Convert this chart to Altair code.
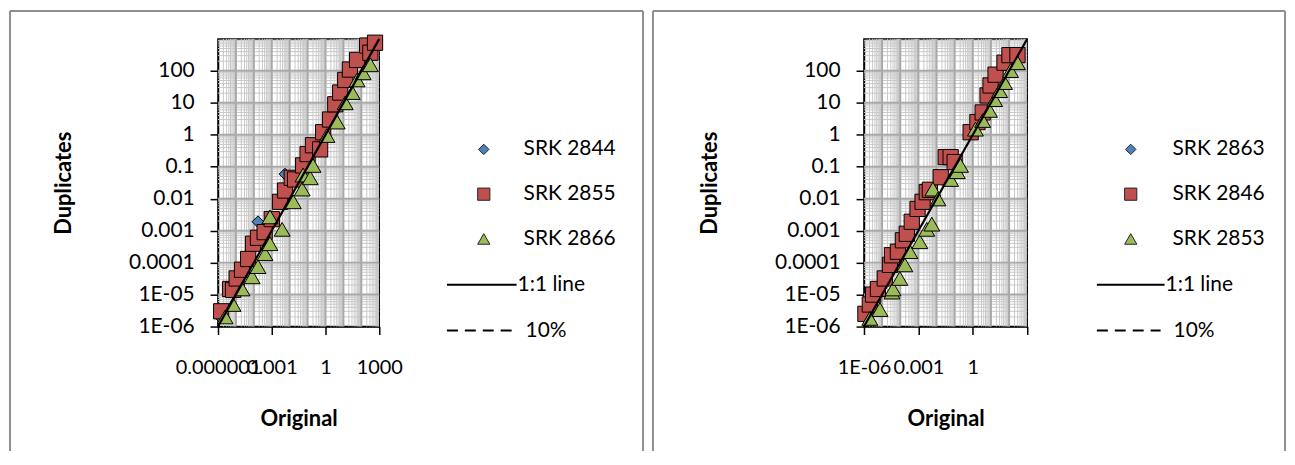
import json
import altair as alt
import pandas as pd

# ---------------- data ----------------
left_names = ["SRK 2844", "SRK 2855", "SRK 2866"]
right_names = ["SRK 2863", "SRK 2846", "SRK 2853"]

left_blue_x = [1.3e-6, 1.7e-4, 5.5e-3]
left_blue_y = [2.0e-6, 1.9e-3, 0.059]

left_red_x = [1.5e-6, 4.7e-6, 7e-6, 1.1e-5, 2.2e-5, 4.8e-5, 9e-5, 1.7e-4, 4e-4, 1e-3, 2.9e-3,
              5.5e-3, 0.013, 0.02, 0.056, 0.1, 0.2, 0.5, 0.74, 1.8, 3.5, 6.6, 12.6, 23, 58,
              210, 320, 580]
left_red_y = [3e-6, 1.5e-5, 1.4e-5, 3.2e-5, 6e-5, 1.3e-4, 3.9e-4, 6e-4, 9e-4, 2.3e-3, 8e-3,
              0.018, 0.045, 0.04, 0.11, 0.25, 0.47, 0.35, 1.2, 3, 9, 21, 52, 110, 220,
              620, 370, 760]

left_green_x = [2.5e-6, 6.9e-6, 2.2e-5, 8e-5, 1.7e-4, 4.2e-4, 8e-4, 8e-4, 3.8e-3, 0.016, 0.05,
                0.056, 0.14, 0.2, 1.2, 4.5, 12.6, 31, 58, 126, 320]
left_green_y = [2e-6, 4.9e-6, 1.5e-5, 3.6e-5, 7.5e-5, 1.9e-4, 3.9e-4, 2.7e-3, 1.1e-3, 8e-3, 0.02,
                0.055, 0.045, 0.11, 0.95, 2.5, 10, 21, 52, 87, 155]

right_blue_x = []
right_blue_y = []

right_red_x = [1.2e-6, 2.1e-6, 3.2e-6, 5.9e-6, 1.4e-5, 2.7e-5, 3.5e-5, 7.4e-5, 1.4e-4, 2.3e-4,
               4.3e-4, 9e-4, 1.7e-3, 2.9e-3, 4.3e-3, 0.017, 0.032, 0.06, 0.1, 0.76, 1.8, 3.5,
               6.5, 9.5, 18, 56, 105, 290]
right_red_y = [2.5e-6, 4.9e-6, 1e-5, 1.5e-5, 3.2e-5, 8.5e-5, 1.7e-4, 2.2e-4, 5e-4, 8e-4,
               1.9e-3, 4.8e-3, 8e-3, 0.016, 0.019, 0.047, 0.2, 0.2, 0.14, 1.2, 2.5, 5,
               17, 35, 76, 180, 310, 310]

right_green_x = [2.1e-6, 7.6e-6, 3.5e-5, 4e-5, 9.5e-5, 1.8e-4, 3.4e-4, 1.2e-3, 2.9e-3, 5.5e-3,
                 6.3e-3, 0.012, 0.06, 0.14, 0.21, 1.4, 3.5, 8.3, 16, 30, 56, 120, 290]
right_green_y = [1.8e-6, 3.4e-6, 1.2e-5, 1.5e-5, 3.2e-5, 8.5e-5, 2.2e-4, 4.5e-4, 1.1e-3, 1.6e-3,
                 0.02, 9.8e-3, 0.04, 0.07, 0.11, 1.5, 2.8, 5.8, 12.6, 24, 43, 102, 180]

# tick labels per decade exponent, from 10^-6 up to 10^3
y_tick_values = [1e-6, 1e-5, 1e-4, 1e-3, 1e-2, 1e-1, 1, 10, 100]
y_labels_by_exp = ["1E-06", "1E-05", "0.0001", "0.001", "0.01", "0.1", "1", "10", "100", "1000"]
left_x_tick_values = [1e-6, 1e-3, 1, 1000]
left_x_labels_by_exp = ["0.000001", "", "", "0.001", "", "", "1", "", "", "1000"]
right_x_tick_values = [1e-6, 1e-3, 1, 1000]
right_x_labels_by_exp = ["1E-06", "", "", "0.001", "", "", "1", "", "", ""]

one_to_one = [1e-6, 1000]
line_labels = ["1:1 line", "10%"]

# ---------------- styling ----------------
FONT = "Lato"
BLUE, RED, GREEN = "#4F81BD", "#C0504D", "#9BBB59"
DOMAIN = [1e-6, 1000]
minor_grid = [m * 10.0 ** e for e in range(-6, 3) for m in range(2, 10)]
major_grid = [10.0 ** e for e in range(-5, 3)]


def label_expr(labels):
    return f"{json.dumps(labels)}[round(log(datum.value) / LN10) + 6]"


def panel(blue, red, green, names, xvals, xlabels, w, lg, frame):
    xs = alt.Scale(type="log", domain=DOMAIN, nice=False)
    ys = alt.Scale(type="log", domain=DOMAIN, nice=False)
    xaxis = alt.Axis(values=xvals, labelExpr=label_expr(xlabels), grid=False, labelFontSize=20,
                     tickSize=8, labelPadding=23, titlePadding=31)
    yaxis = alt.Axis(values=y_tick_values, labelExpr=label_expr(y_labels_by_exp),
                     grid=False, tickSize=8, labelPadding=16, titlePadding=53)

    def X(f):
        return alt.X(f, scale=xs, title="Original", axis=xaxis)

    def Y(f):
        return alt.Y(f, scale=ys, title="Duplicates", axis=yaxis)

    layers = []
    # grid lines
    for vals, col, sw in [(minor_grid, "#c9c9c9", 1), (major_grid, "#a9a9a9", 2)]:
        g = pd.DataFrame({"v": vals})
        layers.append(alt.Chart(g).mark_rule(color=col, strokeWidth=sw).encode(x=X("v:Q")))
        layers.append(alt.Chart(g).mark_rule(color=col, strokeWidth=sw).encode(y=Y("v:Q")))
    # series
    specs = [(blue, "diamond", BLUE, 140), (red, "square", RED, 235), (green, "triangle-up", GREEN, 255)]
    for (xv, yv), shape, col, size in specs:
        if len(xv) == 0:
            continue
        df = pd.DataFrame({"Original": xv, "Duplicates": yv})
        layers.append(alt.Chart(df).mark_point(shape=shape, filled=True, fill=col, stroke="#000",
                                               strokeWidth=1, size=size, opacity=1).encode(
            x=X("Original:Q"), y=Y("Duplicates:Q")))
    # 1:1 line
    ldf = pd.DataFrame({"Original": one_to_one, "Duplicates": one_to_one})
    layers.append(alt.Chart(ldf).mark_line(color="#000", strokeWidth=2.2).encode(
        x=X("Original:Q"), y=Y("Duplicates:Q")))
    # legend (drawn by hand, Excel style)
    one = pd.DataFrame({"a": [0]})
    for i, (shape, col, sz) in enumerate([("diamond", BLUE, 110), ("square", RED, 150), ("triangle-up", GREEN, 150)]):
        yy = 111 + 45 * i
        layers.append(alt.Chart(one).mark_point(shape=shape, filled=True, fill=col, stroke="#222",
                                                strokeWidth=1, size=sz, opacity=1).encode(
            x=alt.value(lg["sym"]), y=alt.value(yy)))
        layers.append(alt.Chart(pd.DataFrame({"t": [names[i]]})).mark_text(
            align="left", baseline="middle", font=FONT, fontSize=21, color="#000").encode(
            x=alt.value(lg["txt"]), y=alt.value(yy), text="t:N"))
    for j, dash in enumerate([[1, 0], [11, 7]]):
        yy = 247 + 46 * j
        layers.append(alt.Chart(one).mark_rule(color="#000", strokeWidth=2, strokeDash=dash).encode(
            x=alt.value(lg["l0"]), x2=alt.value(lg["l1"] - 4 * j), y=alt.value(yy)))
        layers.append(alt.Chart(pd.DataFrame({"t": [line_labels[j]]})).mark_text(
            align="left", baseline="middle", font=FONT, fontSize=21, color="#000").encode(
            x=alt.value(lg["l1"] + 1 + 8 * j), y=alt.value(yy), text="t:N"))
    # panel frame (top, left, right)
    fl, fr, ft, fb = frame
    fc = "#8f8f8f"
    layers.append(alt.Chart(one).mark_rule(color=fc, strokeWidth=2).encode(
        x=alt.value(fl), x2=alt.value(fr), y=alt.value(ft)))
    layers.append(alt.Chart(one).mark_rule(color=fc, strokeWidth=2).encode(
        x=alt.value(fl), y=alt.value(ft), y2=alt.value(fb)))
    layers.append(alt.Chart(one).mark_rule(color=fc, strokeWidth=2).encode(
        x=alt.value(fr), y=alt.value(ft), y2=alt.value(fb)))
    return alt.layer(*layers).properties(width=w, height=289)


left = panel((left_blue_x, left_blue_y), (left_red_x, left_red_y), (left_green_x, left_green_y),
             left_names, left_x_tick_values, left_x_labels_by_exp, 162,
             {"sym": 267, "txt": 307, "l0": 230, "l1": 300}, (-209, 427, -28, 414))
right = panel((right_blue_x, right_blue_y), (right_red_x, right_red_y), (right_green_x, right_green_y),
              right_names, right_x_tick_values, right_x_labels_by_exp, 164,
              {"sym": 268, "txt": 310, "l0": 234, "l1": 302}, (-212, 423, -28, 414))

chart = alt.hconcat(left, right, spacing=6).properties(padding=0, background="#ffffff").configure_view(
    stroke="#000", strokeWidth=1.5).configure_axis(
    labelFont=FONT, labelFontSize=21, labelColor="#000", titleFont=FONT, titleFontSize=22,
    titleFontWeight="bold", titleColor="#000", tickColor="#000", domainColor="#000",
    domainWidth=1.5, tickWidth=1.5, labelFlush=False, labelOverlap=False)

chart.save("out.html", embed_options={"renderer": "svg", "actions": False})
